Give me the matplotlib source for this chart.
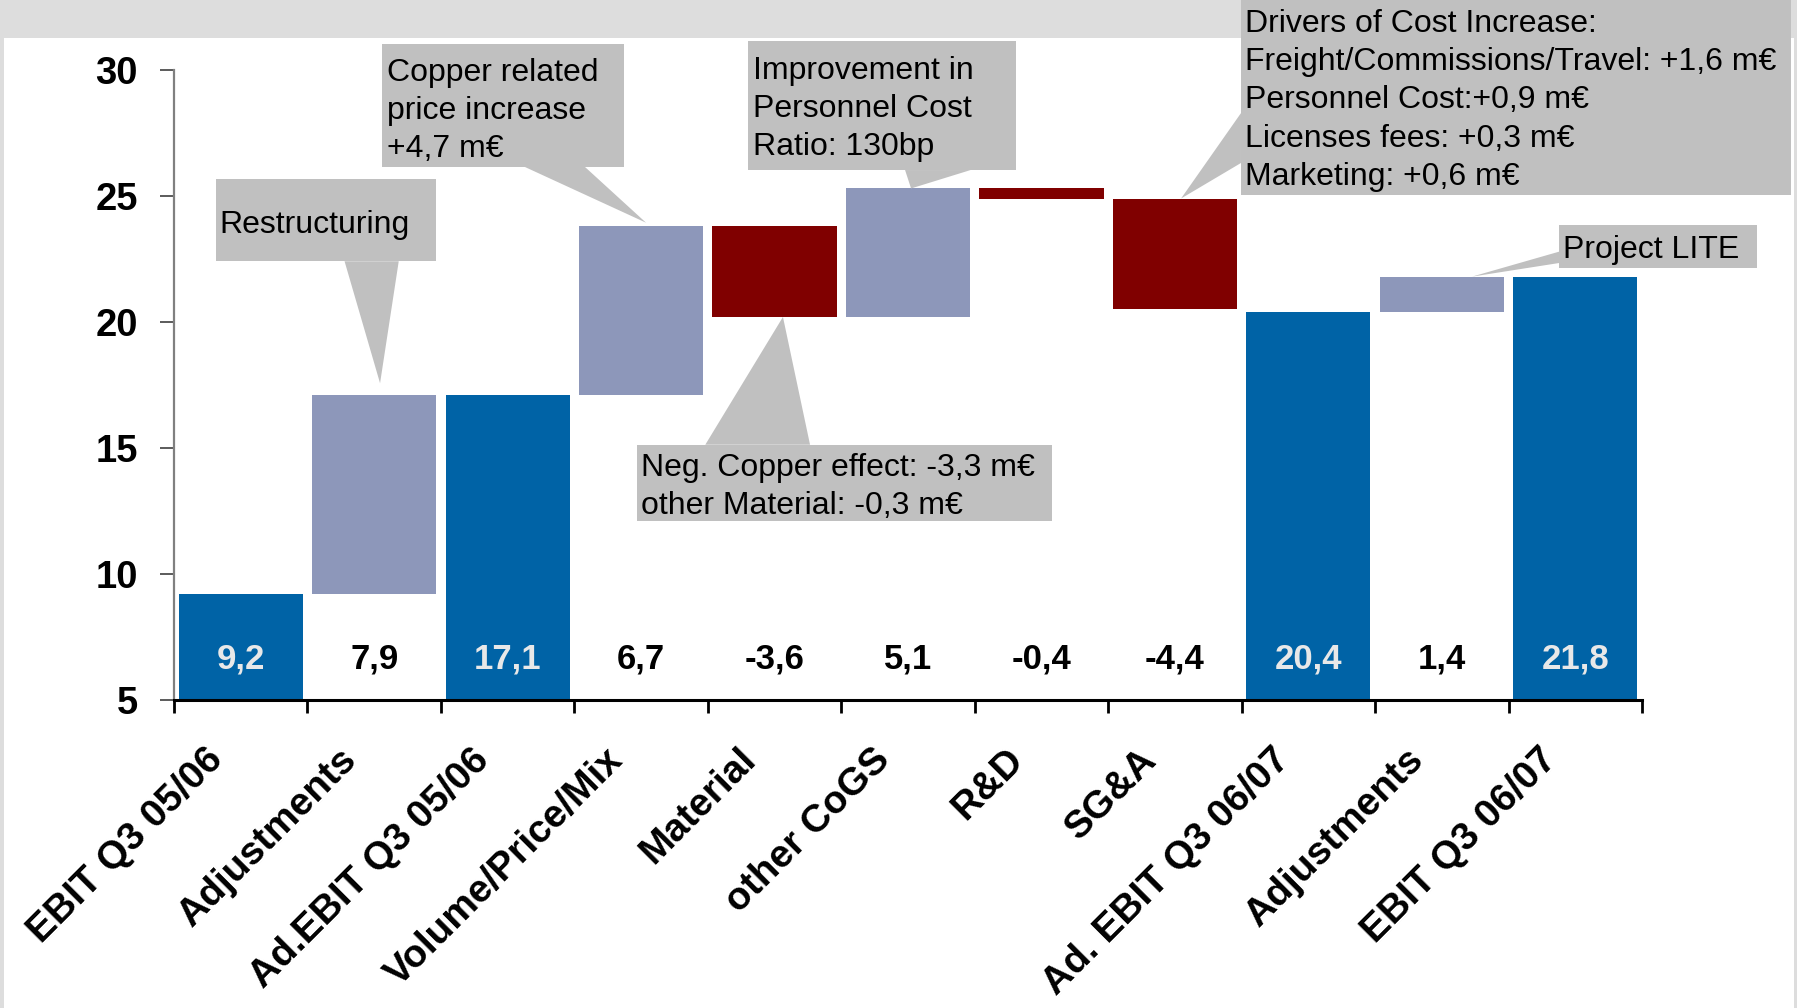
import matplotlib
matplotlib.use("Agg")
import matplotlib.pyplot as plt
from matplotlib.patches import Rectangle, Polygon
from matplotlib.transforms import ScaledTranslation

plt.rcParams['font.family'] = ['Liberation Sans', 'DejaVu Sans']

# ---- data -------------------------------------------------------------
categories = ["EBIT Q3 05/06", "Adjustments", "Ad.EBIT Q3 05/06", "Volume/Price/Mix",
              "Material", "other CoGS", "R&D", "SG&A", "Ad. EBIT Q3 06/07",
              "Adjustments", "EBIT Q3 06/07"]
values = [9.2, 7.9, 17.1, 6.7, -3.6, 5.1, -0.4, -4.4, 20.4, 1.4, 21.8]
is_total = [True, False, True, False, False, False, False, False, True, False, True]
y_ticks = [5, 10, 15, 20, 25, 30]

# ---- style ------------------------------------------------------------
C_TOTAL = "#0063A6"
C_UP = "#8D97BA"
C_DOWN = "#800000"
C_NOTE = "#C0C0C0"
C_BAND = "#DDDDDD"

W, H, DPI = 1797, 1008, 100
fig = plt.figure(figsize=(W / DPI, H / DPI), dpi=DPI, facecolor="white")

# grey frame band along the top and thin strips at the sides (behind the axes)
for x, y, w, h in [(0, 1 - 38 / H, 1, 38 / H), (0, 0, 4 / W, 1), (1 - 3 / W, 0, 3 / W, 1)]:
    fig.patches.append(Rectangle((x, y), w, h, transform=fig.transFigure,
                                 facecolor=C_BAND, edgecolor="none", zorder=-5))

ax = fig.add_axes([174 / W, 1 - 700 / H, (1642 - 174) / W, (700 - 70) / H])
ax.set_zorder(1)
ax.set_facecolor("none")
ax.set_xlim(-0.5, len(categories) - 0.5)
ax.set_ylim(5, 30)

# ---- waterfall bars ---------------------------------------------------
bottoms, heights, colors = [], [], []
running = 0.0
for v, tot in zip(values, is_total):
    if tot:
        bottoms.append(0.0)
        heights.append(v)
        colors.append(C_TOTAL)
        running = v
    else:
        bottoms.append(running)
        heights.append(v)
        colors.append(C_UP if v >= 0 else C_DOWN)
        running += v
tops = [b + h for b, h in zip(bottoms, heights)]

xs = list(range(len(categories)))
ax.bar(xs, heights, bottom=bottoms, width=0.93, color=colors, zorder=2)

# value labels along the bottom
for x, v, tot in zip(xs, values, is_total):
    ax.text(x, 6.62, f"{v:.1f}".replace(".", ","), ha="center", va="center",
            fontsize=25, fontweight="bold",
            color="#E8E8E8" if tot else "black", zorder=4)

# ---- axes -------------------------------------------------------------
for s in ("top", "right"):
    ax.spines[s].set_visible(False)
ax.spines["left"].set_color("#808080")
ax.spines["left"].set_linewidth(1.6)
ax.spines["bottom"].set_color("black")
ax.spines["bottom"].set_linewidth(2.2)
ax.spines["bottom"].set_zorder(5)

ax.set_yticks(y_ticks)
ax.set_yticklabels([str(t) for t in y_ticks], fontsize=27.5, fontweight="bold")
ax.tick_params(axis="y", length=10, width=1.2, color="#404040", pad=16)

ax.set_xticks([i - 0.5 for i in range(len(categories) + 1)])
ax.set_xticklabels([])
ax.tick_params(axis="x", which="major", length=9.5, width=2, color="black")
ax.set_xticks(xs, minor=True)
ax.set_xticklabels(categories, minor=True, rotation=45, ha="right",
                   fontsize=28, fontweight="bold")
ax.tick_params(axis="x", which="minor", length=0, pad=30)
shift = ScaledTranslation(-11 / DPI, 0, fig.dpi_scale_trans)
for lab in ax.get_xticklabels(minor=True):
    lab.set_transform(lab.get_transform() + shift)

# ---- callouts ---------------------------------------------------------
def callout(box, lines, text_x, first_y, wedge, step=1.51):
    x0, y0, x1, y1 = box
    ax.add_patch(Rectangle((x0, y0), x1 - x0, y1 - y0, facecolor=C_NOTE,
                           edgecolor="none", clip_on=False, zorder=3))
    ax.add_patch(Polygon(wedge, closed=True, facecolor=C_NOTE, edgecolor="none",
                         clip_on=False, zorder=3))
    for k, s in enumerate(lines):
        ax.text(text_x, first_y - k * step, s, ha="left", va="center", fontsize=23,
                color="black", zorder=4, clip_on=False)

callout((-0.185, 22.41, 1.463, 25.66), ["Restructuring"], -0.158, 23.84,
        [(0.778, 22.41), (1.184, 22.41), (1.044, tops[1] + 0.47)])

callout((1.059, 26.16, 2.870, 31.02),
        ["Copper related", "price increase", "+4,7 m€"], 1.093, 29.9,
        [(2.126, 26.16), (2.578, 26.16), (3.037, tops[3] + 0.14)])

callout((2.969, 12.09, 6.079, 15.13),
        ["Neg. Copper effect: -3,3 m€", "other Material: -0,3 m€"], 2.996, 14.2,
        [(3.481, 15.13), (4.266, 15.13), (4.063, tops[4])])

callout((3.801, 26.03, 5.806, 31.16),
        ["Improvement in", "Personnel Cost", "Ratio: 130bp"], 3.836, 29.95,
        [(4.978, 26.03), (5.469, 26.03), (5.023, tops[5])])

callout((7.495, 25.05, 11.617, 32.9),
        ["Drivers of Cost Increase:", "Freight/Commissions/Travel: +1,6 m€",
         "Personnel Cost:+0,9 m€", "Licenses fees: +0,3 m€", "Marketing: +0,6 m€"],
        7.525, 31.84,
        [(7.495, 28.29), (7.495, 26.31), (7.046, bottoms[7])], step=1.52)

callout((9.878, 22.13, 11.359, 23.85), ["Project LITE"], 9.908, 22.84,
        [(9.878, 22.79), (9.878, 22.34), (9.226, tops[9])])

fig.savefig("out.png", dpi=DPI, facecolor="white")
